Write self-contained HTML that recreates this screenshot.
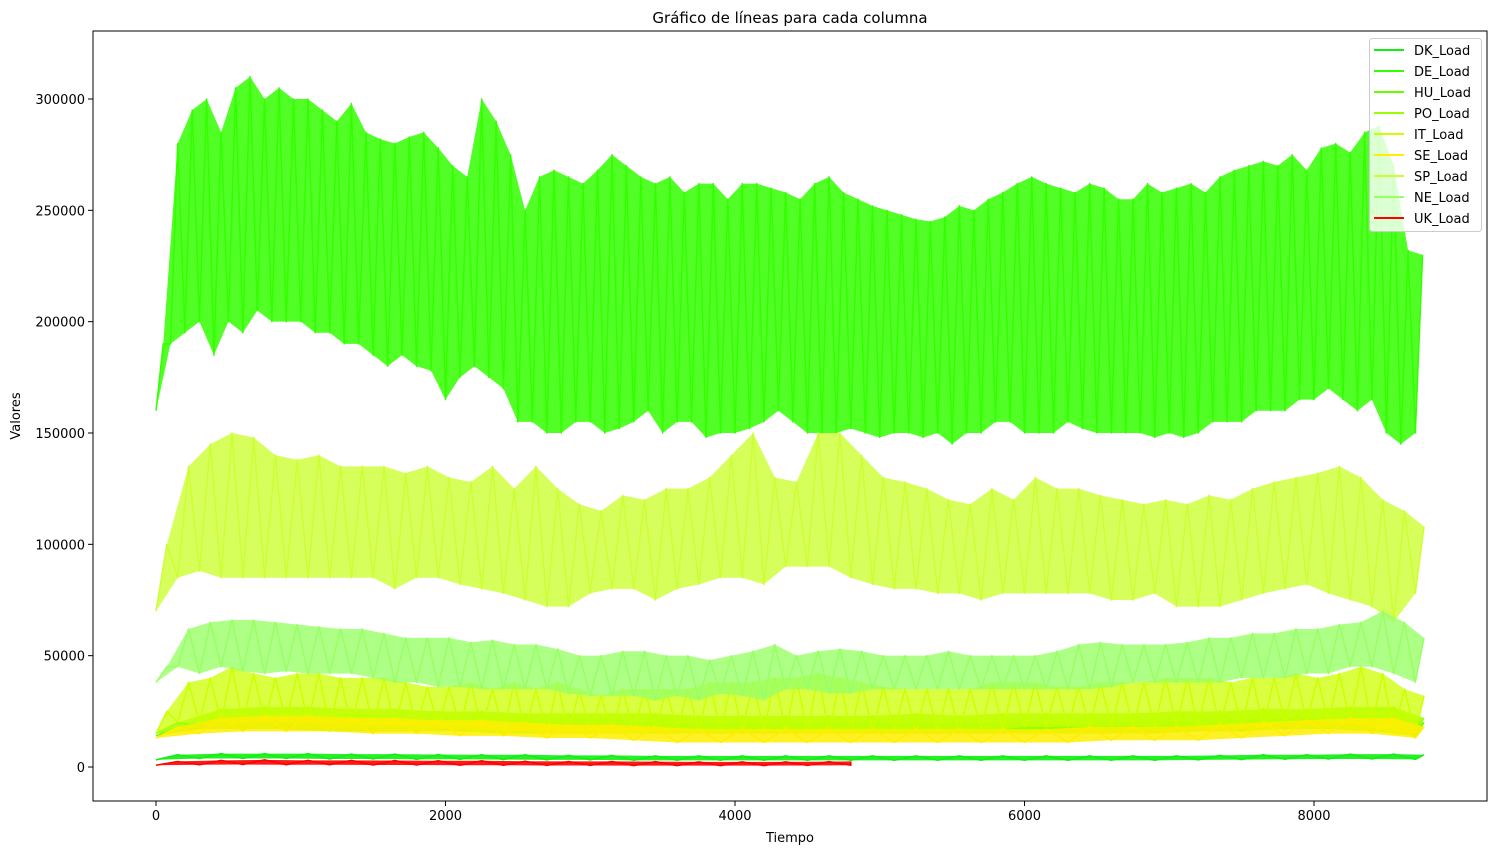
<!DOCTYPE html>
<html><head><meta charset="utf-8"><style>
body{margin:0;background:#fff;font-family:"Liberation Sans","DejaVu Sans",sans-serif}
svg text{font-family:"DejaVu Sans","Liberation Sans",sans-serif;font-size:13px;fill:#000}
</style></head><body>
<svg id="chart" width="1497" height="854" xmlns="http://www.w3.org/2000/svg">
<text x="790" y="23" text-anchor="middle" style="font-size:15px">Gráfico de líneas para cada columna</text>
<text x="790" y="842" text-anchor="middle">Tiempo</text>
<text x="20" y="416" text-anchor="middle" transform="rotate(-90 20 416)">Valores</text>
<g id="plot"></g>
<g id="axes"></g>
<g id="legend"></g>
</svg>
<script>
const xTicks=[0,2000,4000,6000,8000];
const yTicks=[0,50000,100000,150000,200000,250000,300000];
const names=["DK_Load","DE_Load","HU_Load","PO_Load","IT_Load","SE_Load","SP_Load","NE_Load","UK_Load"];
const colors=["#11ee11","#33ff00","#66ff00","#99ff00","#ccff00","#ffee00","#ccff33","#99ff66","#ff0000"];
const steps=[300,100,300,300,150,300,150,150,300];
const deHi=[190,280,295,300,285,305,310,300,305,300,300,295,290,298,285,282,280,283,285,278,270,265,300,290,275,250,265,268,265,262,268,275,270,265,262,265,258,262,262,255,262,262,260,258,255,262,265,258,255,252,250,248,246,245,247,252,250,255,258,262,265,262,260,258,262,260,255,255,262,258,260,262,258,265,268,270,272,270,275,268,278,280,276,285,288,270,232,230];
const deLo=[160,190,195,200,185,200,195,205,200,200,200,195,195,190,190,185,180,185,180,178,165,175,180,175,170,155,155,150,150,155,155,150,152,155,160,150,155,155,148,150,150,152,155,160,155,150,150,150,152,150,148,150,150,148,150,145,150,150,155,155,150,150,150,155,152,150,150,150,150,148,150,148,150,155,155,155,160,160,160,165,165,170,165,160,165,150,145,150];
const spHi=[100,135,145,150,148,140,138,140,135,135,135,132,135,130,128,135,125,135,125,118,115,122,120,125,125,130,140,150,130,128,150,150,140,130,128,125,120,118,125,120,130,125,125,122,120,118,120,118,122,120,125,128,130,132,135,130,120,115,108];
const spLo=[70,85,88,85,85,85,85,85,85,85,85,80,85,85,82,80,78,75,72,72,78,80,80,75,80,82,85,85,82,90,90,90,85,82,80,80,78,78,75,78,78,78,78,78,75,75,78,72,72,72,75,78,80,82,78,75,72,65,78];
const neHi=[45,62,65,66,66,65,64,63,62,62,60,58,58,58,56,57,55,55,53,50,50,52,52,50,50,48,50,52,55,50,52,53,52,50,50,50,52,50,50,50,50,52,55,56,55,55,55,56,58,58,60,60,62,62,64,65,70,65,58];
const neLo=[38,45,42,45,43,42,43,42,42,42,40,38,38,36,36,35,35,35,35,33,32,32,32,30,32,30,33,32,30,35,35,33,33,35,35,35,35,35,35,35,35,35,35,35,36,38,38,38,38,38,40,40,40,42,42,45,45,42,38];
const itHi=[25,38,40,45,42,40,42,42,40,40,40,38,36,36,38,35,38,35,38,35,32,35,35,35,35,38,38,38,40,40,42,40,38,36,35,35,35,35,38,38,38,36,36,38,38,38,40,40,40,38,40,40,42,40,42,45,42,35,32];
const itLo=[15,20,20,20,20,20,20,20,18,18,18,18,18,18,18,17,16,16,15,15,15,15,15,16,16,16,16,16,16,16,15,15,15,16,16,16,16,16,17,17,18,18,18,18,18,18,18,18,18,18,18,18,20,20,20,20,18,15,15];
const poHi=[20,26,27,27,26,26,25,25,24,24,24,24,23,23,23,23,23,24,23,24,24,24,24,25,25,26,26,27,27,22];
const poLo=[15,18,19,19,18,18,17,17,16,16,16,15,15,15,15,15,15,15,15,15,15,15,15,16,16,17,18,18,17,15];
const huHi=[18,22,23,23,22,22,21,21,21,20,20,20,20,20,20,20,20,20,20,20,20,20,20,21,21,22,22,23,23,20];
const huLo=[14,17,17,17,16,16,16,16,15,15,15,15,15,15,15,15,15,15,15,15,15,15,15,15,16,16,17,17,16,14];
const seHi=[18,22,23,23,22,22,21,21,20,19,19,18,17,17,17,17,17,17,17,17,17,18,18,18,19,20,21,22,22,18];
const seLo=[13,15,16,16,16,15,15,14,14,13,13,12,11,11,11,11,11,11,11,11,11,11,12,12,12,13,14,15,15,13];
const dkHi=[5.5,6,6,6,5.8,5.8,5.6,5.5,5.5,5.2,5.2,5,5,5,5,5,5,5,5,5,5,5,5,5,5.2,5.5,5.5,5.8,5.8,5.5];
const dkLo=[3.2,3.8,3.8,3.8,3.6,3.6,3.4,3.4,3.3,3.2,3.2,3,3,3,3,3,3,3,3,3,3,3,3,3,3.2,3.3,3.5,3.6,3.6,3.4];
const ukHi=[2.5,3,3.2,3,3,2.9,2.8,2.8,2.6,2.5,2.5,2.4,2.3,2.3,2.3,2.4,2.5];
const ukLo=[0.8,1,1.1,1,1,0.9,0.9,0.8,0.8,0.7,0.7,0.6,0.6,0.6,0.6,0.7,0.8];
const his=[dkHi,deHi,huHi,poHi,itHi,seHi,spHi,neHi,ukHi];
const los=[dkLo,deLo,huLo,poLo,itLo,seLo,spLo,neLo,ukLo];
const fillOp=[0.9,0.85,0.85,0.85,0.75,0.85,0.8,0.8,0.9];
const tMax=[8760,8760,8760,8760,8760,8760,8760,8760,4800];

const L=93,R=1487,T=31,B=801;
const xs=t=>156+t*(1314-156)/8000;
const ys=v=>767-v*(767-99)/300000;
const NS="http://www.w3.org/2000/svg";
const plot=document.getElementById('plot'),axes=document.getElementById('axes'),leg=document.getElementById('legend');
function mk(tag,at,parent){const e=document.createElementNS(NS,tag);for(const k in at)e.setAttribute(k,at[k]);parent.appendChild(e);return e;}

names.forEach((n,s)=>{
  const hi=his[s],lo=los[s],st=steps[s];
  const tx=t=>xs(Math.min(t,tMax[s]));
  const g=mk('g',{},plot);
  
  
  let top=hi.map((v,i)=>tx(i*st+st/2)+','+ys(v*1000));
  let bot=lo.map((v,i)=>tx(i*st)+','+ys(v*1000)).reverse();
  const band=mk('polygon',{points:top.concat(bot).join(' '),fill:colors[s],opacity:fillOp[s]},g);
  
  
  let pts=[];
  hi.forEach((v,i)=>{pts.push(tx(i*st)+','+ys(lo[i]*1000));pts.push(tx(i*st+st/2)+','+ys(v*1000));});
  const pl=mk('polyline',{points:pts.join(' '),fill:'none',stroke:colors[s],'stroke-width':1.5,'stroke-linejoin':'round'},g);
  
  
});

const fr=mk('rect',{x:L,y:T,width:R-L,height:B-T,fill:'none',stroke:'#000','stroke-width':1},axes);


xTicks.forEach(t=>{
  const x=xs(t);
  mk('line',{x1:x,x2:x,y1:B,y2:B+5,stroke:'#000'},axes);
  const tx=mk('text',{x:x,y:B+19,'text-anchor':'middle'},axes);tx.textContent=t;
  
  
});
yTicks.forEach(v=>{
  const y=ys(v);
  mk('line',{x1:L-5,x2:L,y1:y,y2:y,stroke:'#000'},axes);
  const tx=mk('text',{x:L-8,y:y+5,'text-anchor':'end'},axes);tx.textContent=v;
  
  
});
const lb=mk('rect',{x:1369.5,y:38.5,width:112,height:193,rx:3,fill:'#fff','fill-opacity':0.8,stroke:'#ccc'},leg);


names.forEach((n,i)=>{
  const y=50+i*21;
  const g=mk('g',{},leg);
  
  
  mk('line',{x1:1374,x2:1404,y1:y,y2:y,stroke:colors[i],'stroke-width':2},g);
  const t=mk('text',{x:1414,y:y+5},g);t.textContent=n;
});
</script>
</body></html>
